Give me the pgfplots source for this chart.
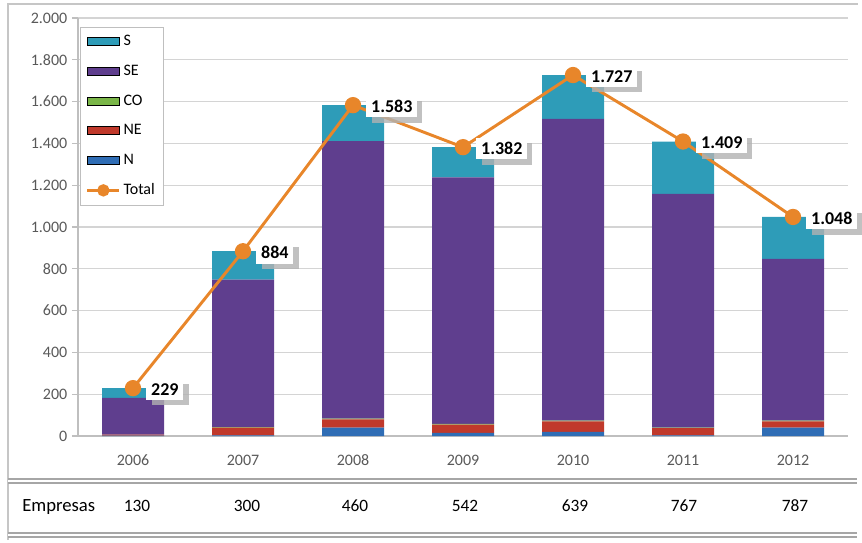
\documentclass[border=0pt]{standalone}
\usepackage{pgfplots}
\pgfplotsset{compat=1.18}
\usepackage{pgfplotstable}
\usepackage{fontspec}
\setmainfont{Carlito}
\usetikzlibrary{shadows}

\definecolor{cS}{HTML}{2E9CB8}
\definecolor{cSE}{HTML}{5F3E8E}
\definecolor{cCO}{HTML}{7AB648}
\definecolor{cNE}{HTML}{C0392B}
\definecolor{cN}{HTML}{2F6DB5}
\definecolor{cT}{HTML}{E8862A}
\definecolor{ticktxt}{HTML}{595959}
\definecolor{gridc}{HTML}{D4D4D4}
\definecolor{axc}{HTML}{BFBFBF}

\pgfplotsset{
  barleg/.style={legend image code/.code={\fill[##1] (0pt,-3pt) rectangle (24pt,3pt);}},
  lineleg/.style={legend image code/.code={\draw[mark repeat=2,mark phase=2,##1] plot coordinates {(0pt,0pt)(12pt,0pt)(24pt,0pt)};}},
  common/.style={
    scale only axis, width=577.5pt, height=313.5pt,
    at={(0,0)}, anchor=south west,
    xmin=-0.5, xmax=6.5, ymin=0, ymax=2000,
    /pgf/number format/.cd, 1000 sep={.}, assume math mode=true,
  },
}

\pgfplotstableread{
x N NE CO SE S Total
0 2 5 0 175 47 229
1 3 37 2 706 136 884
2 40 40 3 1328 172 1583
3 15 40 3 1180 144 1382
4 20 50 3 1444 210 1727
5 3 35 2 1118 251 1409
6 40 30 3 774 201 1048
}\data

\begin{document}
\begin{tikzpicture}
\useasboundingbox (-58.5pt,-79.5pt) rectangle (588pt,327pt);
% outer frame
\draw[gray!45, line width=0.8pt] (-52.5pt,-78pt) -- (-52.5pt,324pt) -- (585pt,324pt);

\begin{axis}[common,
  ybar stacked, bar width=46.5pt,
  ytick={0,200,...,2000},
  xtick={0,...,6}, xticklabels={2006,2007,2008,2009,2010,2011,2012},
  ymajorgrids, grid style={gridc, line width=0.8pt},
  axis x line*=bottom, axis y line*=left,
  axis line style={axc, line width=0.8pt},
  tick align=outside, major tick length=4.5pt,
  ytick style={axc, line width=0.8pt},
  xtick style={draw=none},
  yticklabel style={font=\fontsize{12}{14}\selectfont, text=ticktxt},
  xticklabel style={font=\fontsize{12}{14}\selectfont, text=ticktxt, yshift=-6pt},
]
\addplot[fill=cN, draw=none] table[x=x,y=N]{\data};
\addplot[fill=cNE, draw=none] table[x=x,y=NE]{\data};
\addplot[fill=cCO, draw=none] table[x=x,y=CO]{\data};
\addplot[fill=cSE, draw=none] table[x=x,y=SE]{\data};
\addplot[fill=cS, draw=none] table[x=x,y=S]{\data};
\end{axis}

\begin{axis}[common, hide axis, clip=false,
  legend style={at={(0.003,0.978)}, anchor=north west, draw=axc, fill=white,
    font=\fontsize{12}{13}\selectfont, row sep=9pt, inner sep=4pt,
    /tikz/every even column/.append style={column sep=0pt}},
  legend cell align=left,
]
\addlegendimage{barleg, fill=cS}\addlegendentry{S}
\addlegendimage{barleg, fill=cSE}\addlegendentry{SE}
\addlegendimage{barleg, fill=cCO}\addlegendentry{CO}
\addlegendimage{barleg, fill=cNE}\addlegendentry{NE}
\addlegendimage{barleg, fill=cN}\addlegendentry{N}
\addlegendimage{lineleg, cT, line width=2.2pt, mark=*, mark size=3.5pt, mark options={fill=cT, draw=cT}}\addlegendentry{Total}
\addplot[cT, line width=2.2pt, mark=*, mark size=5pt, mark options={fill=cT, draw=cT}, forget plot,
  nodes near coords,
  every node near coord/.append style={anchor=west, xshift=9pt, yshift=-1pt, fill=white, text=black, draw=none,
    font=\bfseries\fontsize{13.5}{15}\selectfont, inner sep=3.5pt,
    drop shadow={shadow xshift=4pt, shadow yshift=-4pt, draw=none, fill=black!30, opacity=0.8}},
] table[x=x,y=Total]{\data};
\end{axis}

% table below
\draw[gray!70, double=white, double distance=2.2pt, line width=0.8pt] (-52.5pt,-33.75pt) -- (584.25pt,-33.75pt);
\draw[gray!70, double=white, double distance=2.2pt, line width=0.8pt] (-52.5pt,-74.25pt) -- (584.25pt,-74.25pt);
\node[anchor=west, font=\fontsize{14}{16}\selectfont, inner sep=0pt] at (-42pt,-53.25pt) {Empresas};
\foreach \v/\p in {130/137,300/247,460/355,542/465,639/575,767/684,787/795}{
  \node[font=\fontsize{13}{15}\selectfont, inner sep=0pt] at ({(\p-78)*0.75pt},-52.5pt) {\v};
}
\end{tikzpicture}
\end{document}
